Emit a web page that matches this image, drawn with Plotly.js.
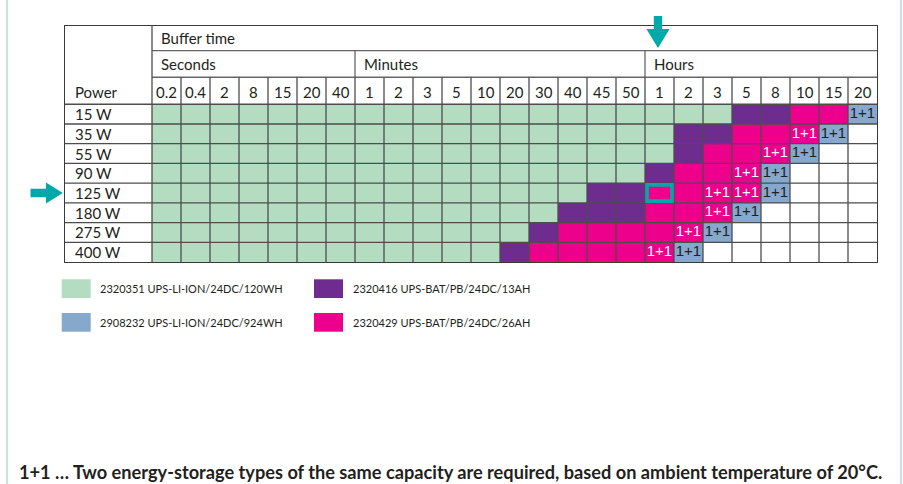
<!DOCTYPE html>
<html><head><meta charset="utf-8">
<script src="https://cdn.plot.ly/plotly-3.0.1.min.js"></script>
<style>html,body{margin:0;padding:0;background:#fff;}#chart{width:903px;height:484px;}</style>
</head><body><div id="chart"></div>
<script>
// ---------- DATA ----------
const bufferSeconds = ['0.2','0.4','2','8','15','20','40'];
const bufferMinutes = ['1','2','3','5','10','20','30','40','45','50'];
const bufferHours   = ['1','2','3','5','8','10','15','20'];
const powers = ['15 W','35 W','55 W','90 W','125 W','180 W','275 W','400 W'];
// G = 2320351, V = 2320416, M = 2320429, X = 2320429 (1+1), B = 2908232 (1+1), W = none
const row15W  = 'GGGGGGGGGGGGGGGGGGGGVVMMB';
const row35W  = 'GGGGGGGGGGGGGGGGGGVVMMXBW';
const row55W  = 'GGGGGGGGGGGGGGGGGGVMMXBWW';
const row90W  = 'GGGGGGGGGGGGGGGGGVMMXBWWW';
const row125W = 'GGGGGGGGGGGGGGGVVMMXXBWWW';
const row180W = 'GGGGGGGGGGGGGGVVVMMXBWWWW';
const row275W = 'GGGGGGGGGGGGGVMMMMXBWWWWW';
const row400W = 'GGGGGGGGGGGGVMMMMXBWWWWWW';
const rows = [row15W,row35W,row55W,row90W,row125W,row180W,row275W,row400W];
const productCodes = ['G','V','B','M'];
const productNames = ['2320351 UPS-LI-ION/24DC/120WH','2320416 UPS-BAT/PB/24DC/13AH',
                      '2908232 UPS-LI-ION/24DC/924WH','2320429 UPS-BAT/PB/24DC/26AH'];
const highlightPower = '125 W';
const highlightHours = '1';
const footnote = '1+1 … Two energy-storage types of the same capacity are required, based on ambient temperature of 20°C.';

// ---------- STYLE ----------
const colorOf = {W:'#ffffff', G:'#b3dcc1', V:'#6f2c8f', M:'#ec008c', X:'#ec008c', B:'#85a8cc'};
const levelOf = {W:0, G:1, V:2, M:3, X:3, B:4};
const TEAL = '#00a9a9';
const INK = '#231f20';
const GRID = '#4d4d4d';
const FONT = 'Lato, "Open Sans", sans-serif';
const W = 903, H = 484, L = 65, T = 26, PW = 812, PH = 236;
const px2x = p => (p - L) / PW;
const px2y = p => (T + PH - p) / PH;

const cols = bufferSeconds.concat(bufferMinutes, bufferHours);
const nC = cols.length, nR = powers.length;
const labelW = 3;               // width of Power column in cell units
const yTop = -4.47, ySec = -3.22, yNum = -1.87, yData = -0.5;
const xMin = -0.5 - labelW, xMax = nC - 0.5;
const xPx = v => L + (v - xMin) / (xMax - xMin) * PW;
const yPx = v => T + (v - yTop) / (nR - 0.5 - yTop) * PH;

// heatmap
const xs = cols.map((_, i) => i), ys = powers.map((_, i) => i);
const z = rows.map(r => r.split('').map(ch => levelOf[ch]));
const c = colorOf;
const colorscale = [[0,c.W],[0.125,c.W],[0.125,c.G],[0.375,c.G],[0.375,c.V],[0.625,c.V],
                    [0.625,c.M],[0.875,c.M],[0.875,c.B],[1,c.B]];
const traces = [{
  type:'heatmap', x:xs, y:ys, z:z, zmin:0, zmax:4, colorscale:colorscale,
  showscale:false, hoverinfo:'skip'
}];
// 1+1 labels
const pinkX=[],pinkY=[],blueX=[],blueY=[];
rows.forEach((r, ri) => r.split('').forEach((ch, ci) => {
  if (ch === 'X') { pinkX.push(ci); pinkY.push(ri); }
  if (ch === 'B') { blueX.push(ci); blueY.push(ri); }
}));
const oneFont = '"Liberation Sans", Arial, sans-serif';
traces.push({type:'scatter', mode:'text', x:pinkX, y:pinkY, text:pinkX.map(()=> '1+1'),
  textfont:{family:oneFont, size:15, color:'#ffffff'}, hoverinfo:'skip', showlegend:false});
traces.push({type:'scatter', mode:'text', x:blueX, y:blueY, text:blueX.map(()=> '1+1'),
  textfont:{family:oneFont, size:15, color:INK}, hoverinfo:'skip', showlegend:false});

// ---------- SHAPES ----------
const shapes = [];
const line = (x0,y0,x1,y1,col,w) => shapes.push({type:'line', xref:'x', yref:'y', x0, y0, x1, y1,
  line:{color:col||GRID, width:w||1.3}, layer:'above'});
// horizontal data row lines (full width incl. Power column)
for (let r = 0; r < nR; r++) line(xMin, r - 0.5, xMax, r - 0.5);
// header horizontal lines
line(-0.5, ySec, xMax, ySec, '#666');
line(-0.5, yNum, xMax, yNum, '#666');
// vertical lines
line(-0.5, yTop, -0.5, nR - 0.5);
for (let i = 1; i < nC; i++) line(i - 0.5, yNum, i - 0.5, nR - 0.5);
const secEnd = bufferSeconds.length - 0.5, minEnd = bufferSeconds.length + bufferMinutes.length - 0.5;
line(secEnd, ySec, secEnd, yNum, '#666');
line(minEnd, ySec, minEnd, yNum, '#666');
// highlight cell
const hc = bufferSeconds.length + bufferMinutes.length + bufferHours.indexOf(highlightHours);
const hr = powers.indexOf(highlightPower);
shapes.push({type:'rect', xref:'x', yref:'y', x0:hc-0.5+0.07, x1:hc+0.5-0.07, y0:hr-0.5+0.09, y1:hr+0.5-0.09,
  line:{color:TEAL, width:3.6}, fillcolor:'rgba(0,0,0,0)', layer:'above'});
// arrows (paper coords)
const pathPx = pts => 'M' + pts.map(p => px2x(p[0]).toFixed(5) + ',' + px2y(p[1]).toFixed(5)).join(' L') + ' Z';
const ax = xPx(hc) - 1.5;
shapes.push({type:'path', xref:'paper', yref:'paper', line:{width:0}, fillcolor:TEAL,
  path: pathPx([[ax-4.2,16],[ax+4.2,16],[ax+4.2,29],[ax+11.6,29],[ax,48],[ax-11.6,29],[ax-4.2,29]])});
const ay = yPx(hr);
shapes.push({type:'path', xref:'paper', yref:'paper', line:{width:0}, fillcolor:TEAL,
  path: pathPx([[30.5,ay-4.2],[30.5,ay+4.2],[46,ay+4.2],[46,ay+10.5],[62.8,ay],[46,ay-10.5],[46,ay-4.2]])});
// page frame lines
shapes.push({type:'line', xref:'paper', yref:'paper', x0:px2x(7), x1:px2x(7), y0:px2y(0), y1:px2y(484),
  line:{color:'#a9d2da', width:1.3}});
shapes.push({type:'line', xref:'paper', yref:'paper', x0:px2x(901), x1:px2x(901), y0:px2y(0), y1:px2y(484),
  line:{color:'#a9d2da', width:1.3}});
// legend swatches
const legPos = [[61.7,279.3],[314,279.3],[61.7,313],[314,313]];
const annotations = [];
productCodes.forEach((code, i) => {
  const [lx, ly] = legPos[i];
  shapes.push({type:'rect', xref:'paper', yref:'paper', x0:px2x(lx), x1:px2x(lx+29), y0:px2y(ly), y1:px2y(ly+18.7),
    line:{width:0}, fillcolor:colorOf[code]});
  annotations.push({xref:'paper', yref:'paper', x:px2x(lx+36.5), y:px2y(ly+9.6), xanchor:'left', yanchor:'middle',
    text:productNames[i], showarrow:false, font:{family:FONT, size:11, color:INK}});
});

// ---------- TEXT ----------
const ann = (x, y, text, anchor, size) => annotations.push({xref:'x', yref:'y', x, y, text, showarrow:false,
  xanchor:anchor||'center', yanchor:'middle', font:{family:FONT, size:size||15, color:INK}});
const padL = 0.24;
ann(-0.5 + padL, (yTop + ySec)/2, 'Buffer time', 'left');
ann(-0.5 + padL, (ySec + yNum)/2, 'Seconds', 'left');
ann(secEnd + padL, (ySec + yNum)/2, 'Minutes', 'left');
ann(minEnd + padL, (ySec + yNum)/2, 'Hours', 'left');
ann(xMin + 0.28, (yNum + yData)/2 + 0.05, 'Power', 'left');
cols.forEach((lab, i) => ann(i, (yNum + yData)/2 + 0.05, lab));
powers.forEach((p, r) => ann(xMin + 0.28, r, p, 'left'));
annotations.push({xref:'paper', yref:'paper', x:px2x(17), y:px2y(472), xanchor:'left', yanchor:'middle',
  text:'<b>' + footnote + '</b>', showarrow:false, font:{family:FONT, size:18.2, color:INK}});

const layout = {
  width:W, height:H, margin:{l:L, r:W-L-PW, t:T, b:H-T-PH, pad:0},
  paper_bgcolor:'#ffffff', plot_bgcolor:'#ffffff', showlegend:false,
  xaxis:{range:[xMin, xMax], showgrid:false, zeroline:false, showticklabels:false, ticks:'',
    showline:true, mirror:true, linecolor:'#3a3a3a', linewidth:1.3, fixedrange:true},
  yaxis:{range:[nR - 0.5, yTop], showgrid:false, zeroline:false, showticklabels:false, ticks:'',
    showline:true, mirror:true, linecolor:'#3a3a3a', linewidth:1.3, fixedrange:true},
  shapes, annotations
};
Plotly.newPlot('chart', traces, layout, {displayModeBar:false, staticPlot:true});
</script></body></html>
